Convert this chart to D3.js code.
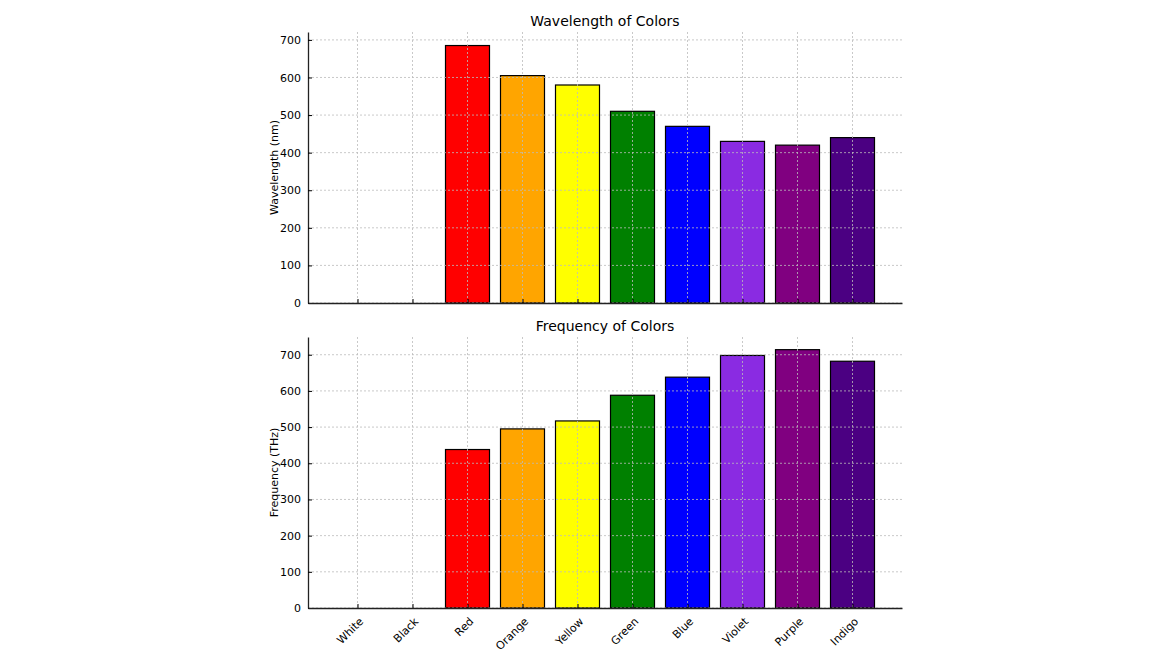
<!DOCTYPE html>
<html><head><meta charset="utf-8">
<script src="https://cdn.jsdelivr.net/npm/d3@7"></script>
<style>body{margin:0;background:#fff}svg{font-family:"DejaVu Sans",sans-serif}</style>
</head><body><svg width="1170" height="658"></svg>
<script>
var categories = ["White","Black","Red","Orange","Yellow","Green","Blue","Violet","Purple","Indigo"];
var barColors = ["white","black","red","orange","yellow","green","blue","blueviolet","purple","indigo"];
var wavelengths = [0,0,685,605,580,510,470,430,420,440];
var frequencies = [0,0,438,495,517,588,638,698,714,682];
var yTicks = [0,100,200,300,400,500,600,700];

var svg = d3.select("svg");
var x = d3.scaleLinear().domain([-0.9, 9.9]).range([308, 902]);

function panel(values, top, bottom, ymax, title, ylabel, showLabels) {
    var y = d3.scaleLinear().domain([0, ymax]).range([bottom, top]);
    var g = svg.append("g");
    var bw = x(0.4) - x(-0.4);
    g.selectAll("rect").data(values).enter().append("rect")
        .attr("x", function (d, i) { return x(i) - bw / 2; })
        .attr("width", bw)
        .attr("y", function (d) { return y(d); })
        .attr("height", function (d) { return bottom - y(d); })
        .attr("fill", function (d, i) { return barColors[i]; })
        .attr("stroke", "black").attr("stroke-width", 1.2)
        .style("display", function (d) { return d > 0 ? null : "none"; });
    // grid on top of bars
    g.selectAll(".gx").data(categories).enter().append("line")
        .attr("x1", function (d, i) { return x(i); }).attr("x2", function (d, i) { return x(i); })
        .attr("y1", top).attr("y2", bottom)
        .attr("stroke", "#bbb").attr("stroke-dasharray", "2,2").attr("stroke-width", 0.8);
    g.selectAll(".gy").data(yTicks).enter().append("line")
        .attr("x1", 308).attr("x2", 902)
        .attr("y1", function (d) { return y(d); }).attr("y2", function (d) { return y(d); })
        .attr("stroke", "#bbb").attr("stroke-dasharray", "2,2").attr("stroke-width", 0.8);
    var ya = g.append("g").attr("transform", "translate(308,0)")
        .call(d3.axisLeft(y).tickValues(yTicks).tickSizeInner(-4).tickSizeOuter(0).tickPadding(7));
    var xa = g.append("g").attr("transform", "translate(0," + bottom + ")")
        .call(d3.axisBottom(x).tickValues(d3.range(10)).tickSizeInner(-4).tickSizeOuter(0)
            .tickFormat(function (i) { return showLabels ? categories[i] : ""; }));
    [ya, xa].forEach(function (a) {
        a.select(".domain").attr("stroke", "#222").attr("stroke-width", 1.3);
        a.selectAll("text").attr("font-size", 11).attr("fill", "#000").attr("font-family", "DejaVu Sans");
    });
    if (showLabels) {
        xa.selectAll("text").attr("text-anchor", "end").attr("dy", 0)
            .attr("transform", "translate(4,12) rotate(-45)");
    }
    svg.append("text").attr("x", 605).attr("y", top - 6).attr("text-anchor", "middle")
        .attr("font-size", 14).text(title);
    svg.append("text").attr("transform", "translate(278," + ((top + bottom) / 2) + ") rotate(-90)")
        .attr("text-anchor", "middle").attr("font-size", 11).text(ylabel);
}

panel(wavelengths, 32, 303, 721, "Wavelength of Colors", "Wavelength (nm)", false);
panel(frequencies, 337, 608, 749, "Frequency of Colors", "Frequency (THz)", true);
</script></body></html>
